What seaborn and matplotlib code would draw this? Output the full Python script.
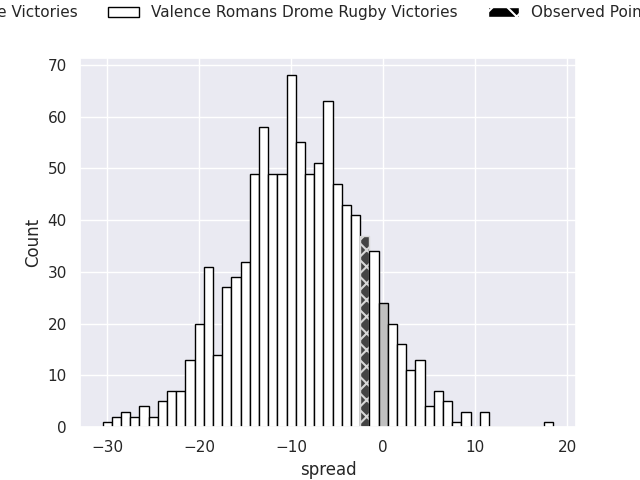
import numpy as np
import pandas as pd
import matplotlib
matplotlib.use("Agg")
import matplotlib.pyplot as plt
import matplotlib.patches as mpatches
import seaborn as sns

# simulated point spreads (integer bins) and how many simulations fell in each
spreads = list(range(-30, 19))
counts = [1, 2, 3, 2, 4, 2, 5, 7, 7, 13,
          20, 31, 14, 27, 29, 32, 49, 58, 49, 49,
          68, 55, 49, 51, 63, 47, 43, 41, 37, 34,
          24, 20, 16, 11, 13, 4, 7, 5, 1, 3,
          0, 3, 0, 0, 0, 0, 0, 0, 1]
observed = -2
tie = 0
labels = ["Opposing Side Victories",
          "Valence Romans Drome Rugby Victories",
          "Observed Point Spread"]

df = pd.DataFrame({"spread": np.repeat(spreads, counts)})

sns.set_theme(style="darkgrid")
plt.rcParams["hatch.linewidth"] = 1.5
fig, ax = plt.subplots(figsize=(6.4, 4.8), dpi=100)
sns.histplot(data=df, x="spread", discrete=True, color="white",
             edgecolor="black", linewidth=1, alpha=1, ax=ax)

# recolour the special bins
for p in ax.patches:
    centre = p.get_x() + p.get_width() / 2
    p.set_facecolor("white")
    if round(centre) == observed:
        p.set_facecolor("#444444")
        p.set_edgecolor("#d8d8d8")
        p.set_hatch("xx")
    elif round(centre) == tie:
        p.set_facecolor("silver")

handles = [mpatches.Patch(facecolor="silver", edgecolor="black"),
           mpatches.Patch(facecolor="white", edgecolor="black"),
           mpatches.Patch(facecolor="black", edgecolor="white", hatch="x")]
fig.legend(handles, labels, loc="center", ncol=3, frameon=False,
           bbox_to_anchor=(0.4375, 0.973))

plt.savefig("out.png")
plt.close()
